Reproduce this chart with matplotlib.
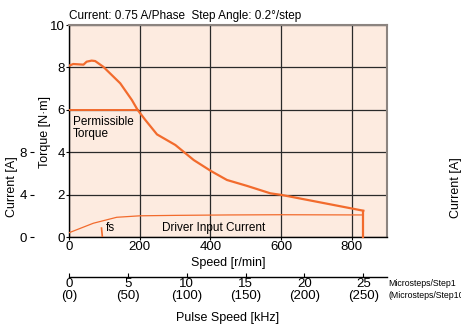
import matplotlib
matplotlib.use('Agg')
import matplotlib.pyplot as plt

plt.rcParams['font.family'] = ['Liberation Sans Narrow', 'Liberation Sans', 'DejaVu Sans']
plt.rcParams['font.size'] = 8.5

# ── Data ─────────────────────────────────────────────────────────────────────
speed_pullout = [0, 12, 41, 50, 64, 74, 97, 145, 178, 194, 216, 249, 301,
                 353, 402, 447, 504, 570, 603, 833]
torque_pullout = [8.08, 8.16, 8.13, 8.27, 8.32, 8.30, 8.03, 7.25, 6.46, 6.0,
                  5.52, 4.84, 4.34, 3.63, 3.11, 2.69, 2.41, 2.06, 1.98, 1.24]

speed_perm = [0, 194]
torque_perm = [6.0, 6.0]

speed_current = [0, 69, 135, 201, 300, 450, 600, 833]
current_amp = [0.4, 1.3, 1.86, 2.0, 2.04, 2.08, 2.1, 2.08]

speed_max = 833
fs_speed = 93

speed_ticks = [0, 200, 400, 600, 800]
torque_ticks = [0, 2, 4, 6, 8, 10]
current_ticks = [0, 4, 8]
khz_ticks = [0, 5, 10, 15, 20, 25]
khz_labels = ['0\n(0)', '5\n(50)', '10\n(100)', '15\n(150)', '20\n(200)', '25\n(250)']

orange = '#f26b2d'
bg = '#fdebe0'

# ── Figure ───────────────────────────────────────────────────────────────────
W, H = 461, 327
fig = plt.figure(figsize=(W / 100, H / 100), dpi=100)
x0, x1, ytop, ybot = 69, 387, 25, 237
pos = [x0 / W, 1 - ybot / H, (x1 - x0) / W, (ybot - ytop) / H]
ax = fig.add_axes(pos)
ax.set_facecolor(bg)

ax.plot(speed_pullout, torque_pullout, color=orange, lw=1.6, zorder=4)
ax.plot(speed_perm, torque_perm, color=orange, lw=1.4, zorder=4)
ax.plot([speed_max, speed_max], [torque_pullout[-1], 0], color=orange, lw=1.6,
        zorder=4, clip_on=False)
ax.plot([fs_speed - 1, fs_speed + 1.5], [0.42, 0.0], color=orange, lw=1.2, zorder=4)

ax.set_xlim(0, 900)
ax.set_ylim(0, 10)
ax.set_xticks(speed_ticks)
ax.set_yticks(torque_ticks)
ax.grid(True, color='#2a2a2a', lw=0.9)
ax.set_axisbelow(True)
for s in ('left', 'bottom'):
    ax.spines[s].set_color('black')
    ax.spines[s].set_linewidth(1.0)
for s in ('right', 'top'):
    ax.spines[s].set_color('#8c8480')
    ax.spines[s].set_linewidth(1.5)
ax.tick_params(length=2, width=0.8, pad=1, labelsize=9.5)
ax.set_xlabel('Speed [r/min]', labelpad=3, fontsize=9)

ax.text(0, 10.12, 'Current: 0.75 A/Phase  Step Angle: 0.2°/step',
        va='bottom', ha='left', fontsize=8.5)
ax.text(10, 5.7, 'Permissible\nTorque', va='top', ha='left', fontsize=8.5,
        linespacing=0.95)
ax.text(408, 0.42, 'Driver Input Current', va='center', ha='center', fontsize=8.5)
ax.text(fs_speed + 12, 0.42, 'fs', va='center', ha='left', fontsize=8.5)

fig.text(45 / W, 1 - 132 / H, 'Torque [N·m]', fontsize=9, rotation=90,
         va='center', ha='center')

# ── Current axis (left, offset) ──────────────────────────────────────────────
axc = fig.add_axes(pos, sharex=ax, frameon=False)
axc.patch.set_visible(False)
axc.plot(speed_current, current_amp, color=orange, lw=0.9, zorder=4)
axc.plot([speed_current[-1], speed_max], [current_amp[-1], current_amp[-1]],
         color=orange, lw=0.9)
axc.set_ylim(0, 20)
axc.set_yticks(current_ticks)
axc.spines['left'].set_visible(True)
axc.spines['left'].set_position(('axes', (30 - x0) / (x1 - x0)))
axc.spines['left'].set_bounds(0, 8)
axc.spines['left'].set_linewidth(0.9)
axc.tick_params(axis='y', direction='in', length=3, width=0.8, pad=2, labelsize=9.5)
axc.tick_params(axis='x', bottom=False, labelbottom=False)

fig.text(12 / W, 1 - 187 / H, 'Current [A]', fontsize=9, rotation=90,
         va='center', ha='center')

# ── Pulse speed axis ─────────────────────────────────────────────────────────
sec = ax.secondary_xaxis(-(277 - ybot) / (ybot - ytop),
                         functions=(lambda s: s * 25 / speed_max,
                                    lambda k: k * speed_max / 25))
sec.set_xticks(khz_ticks)
sec.set_xticklabels(khz_labels)
sec.tick_params(direction='in', length=3, width=0.8, pad=1, labelsize=9.5)
sec.spines['bottom'].set_linewidth(1.0)
sec.set_xlabel('Pulse Speed [kHz]', labelpad=7, fontsize=9)
for lab in sec.get_xticklabels():
    lab.set_linespacing(0.95)

fig.text(388 / W, 1 - 283 / H, 'Microsteps/Step1', fontsize=6.3, va='center', ha='left')
fig.text(388 / W, 1 - 296 / H, '(Microsteps/Step10)', fontsize=6.3, va='center', ha='left')
fig.text(456 / W, 1 - 188 / H, 'Current [A]', fontsize=9, rotation=90,
         va='center', ha='center')

fig.savefig('out.png', dpi=100)
